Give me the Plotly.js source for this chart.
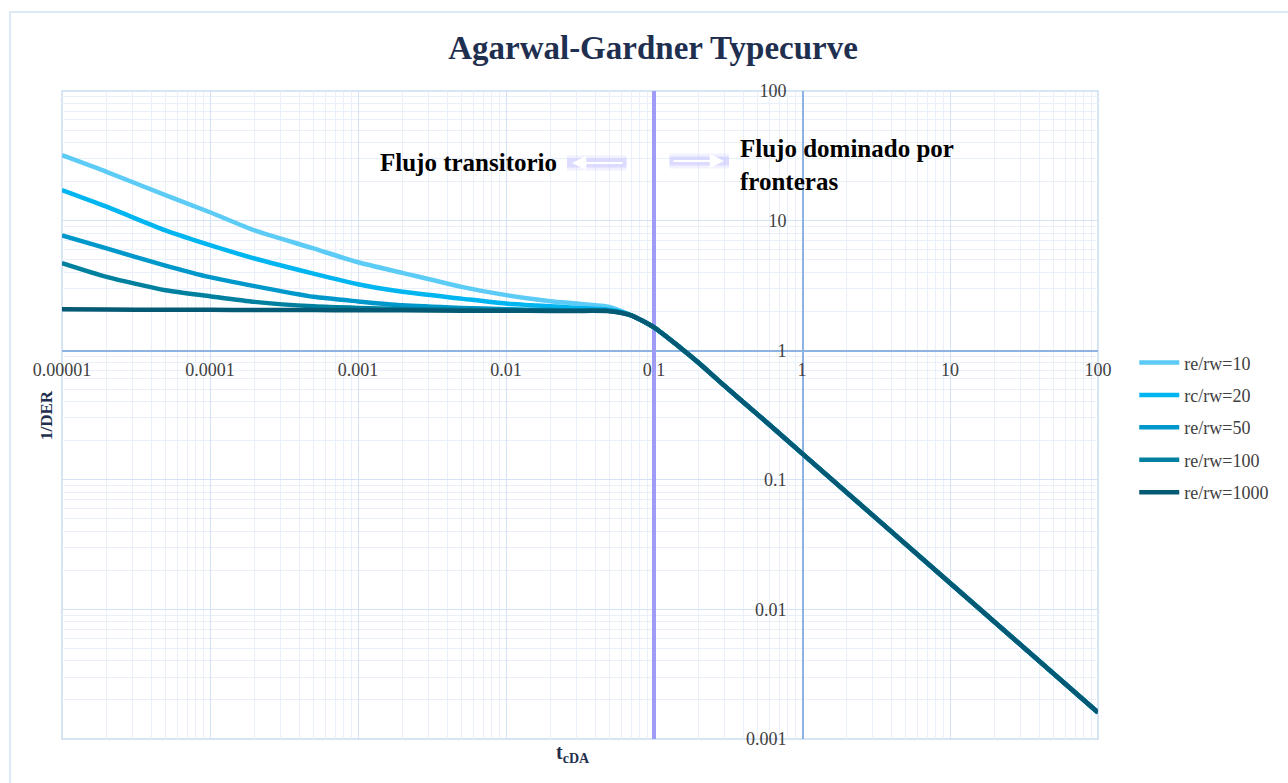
<!DOCTYPE html>
<html>
<head>
<meta charset="utf-8">
<script src="https://cdn.plot.ly/plotly-3.0.1.min.js"></script>
<style>
  html, body { margin: 0; padding: 0; background: #ffffff; }
  #chart { width: 1288px; height: 783px; }
</style>
</head>
<body>
<div id="chart"></div>
<script>
// Dimensionless material-balance time, early (transient) part
const earlyT = [1e-5, 2e-5, 5e-5, 1e-4, 2e-4, 5e-4, 1e-3, 2e-3, 5e-3, 0.01, 0.02, 0.03, 0.05];
// 1/DER for each re/rw during transient flow
const r10   = [32, 23.8, 15.7, 11.6, 8.4, 6.1, 4.77, 3.95, 3.08, 2.66, 2.39, 2.29, 2.16];
const r20   = [17.2, 12.8, 8.4, 6.46, 5.1, 3.9, 3.23, 2.82, 2.5, 2.29, 2.18, 2.12, 2.05];
const r50   = [7.7, 6.1, 4.5, 3.66, 3.12, 2.58, 2.38, 2.22, 2.12, 2.07, 2.04, 2.03, 2.02];
const r100  = [4.7, 3.68, 2.9, 2.61, 2.36, 2.18, 2.12, 2.08, 2.05, 2.04, 2.03, 2.02, 2.01];
const r1000 = [2.07, 2.06, 2.05, 2.05, 2.04, 2.04, 2.03, 2.03, 2.02, 2.02, 2.01, 2.01, 2.0];

// Boundary-dominated part, common to every curve
const lateT = [0.07, 0.1, 0.15, 0.2, 0.3, 0.5, 1, 10, 100];
const lateY = [1.86, 1.5, 1.05, 0.8, 0.53, 0.32, 0.16, 0.016, 0.0016];

const seriesNames  = ['re/rw=10', 'rc/rw=20', 're/rw=50', 're/rw=100', 're/rw=1000'];
const seriesValues = [r10, r20, r50, r100, r1000];
const seriesColors = ['#5ccbf6', '#00b5f0', '#0098cb', '#00809f', '#045a75'];

// Transient / boundary-dominated limit
const limitT = [0.1, 0.1];
const limitY = [0.001, 100];

const xTickVals = [1e-5, 1e-4, 1e-3, 1e-2, 0.1, 1, 10, 100];
const xTickText = ['0.00001', '0.0001', '0.001', '0.01', '0.1', '1', '10', '100'];
const yTickVals = [0.001, 0.01, 0.1, 1, 10, 100];
const yTickText = ['0.001', '0.01', '0.1', '1', '10', '100'];

// Minor grid: 2..9 inside every decade
function decadeSteps(lo, hi) {
  const out = [];
  for (let e = lo; e < hi; e++) {
    for (let m = 2; m <= 9; m++) out.push(m * Math.pow(10, e));
  }
  return out;
}

const serif = 'Liberation Serif, Times New Roman, serif';

const traces = [{
  x: limitT, y: limitY, mode: 'lines', showlegend: false, hoverinfo: 'skip',
  line: { color: '#9f9cf8', width: 4 }
}];
seriesNames.forEach((name, i) => {
  traces.push({
    x: earlyT.concat(lateT),
    y: seriesValues[i].concat(lateY),
    mode: 'lines',
    name: name,
    legendgroup: 'g' + i,
    line: { color: seriesColors[i], width: 4.5, shape: 'spline', smoothing: 0.6 }
  });
});

const axisCommon = {
  type: 'log',
  tickmode: 'array',
  showgrid: true,
  gridcolor: '#d3e2f4',
  gridwidth: 1,
  showline: true,
  linecolor: '#8db3e2',
  linewidth: 1.5,
  ticks: '',
  layer: 'below traces',
  tickfont: { family: serif, size: 18, color: '#404040' },
  anchor: 'free',
  fixedrange: true
};

// white arrow inside a soft lavender glow (pixel positions of tip, length, direction)
function haloArrow(tipX, tipY, len, dir) {
  const px = (x) => (x - 62) / 1036;
  const py = (y) => (739 - y) / 648;
  const glow = (w, c) => ({
    text: '', xref: 'paper', yref: 'paper',
    x: px(tipX + dir * 5), y: py(tipY),
    showarrow: true, axref: 'pixel', ayref: 'pixel', ax: -dir * (len + 9), ay: 0,
    arrowhead: 0, arrowwidth: w, arrowcolor: c
  });
  return [
    glow(15, 'rgba(205,203,255,0.25)'),
    glow(9, 'rgba(190,188,255,0.4)'),
    { text: '', xref: 'paper', yref: 'paper', x: px(tipX), y: py(tipY),
      showarrow: true, axref: 'pixel', ayref: 'pixel', ax: -dir * len, ay: 0,
      arrowhead: 2, arrowsize: 1.3, arrowwidth: 2.2, arrowcolor: '#ffffff' }
  ];
}

const layout = {
  width: 1288,
  height: 783,
  margin: { l: 62, r: 190, t: 91, b: 44 },
  paper_bgcolor: '#ffffff',
  plot_bgcolor: '#ffffff',
  title: {
    text: 'Agarwal-Gardner Typecurve',
    font: { family: serif, size: 33, color: '#1f2f4f', weight: 'bold' },
    xref: 'container', x: 0.507, xanchor: 'center',
    yref: 'container', y: 1 - 47 / 783, yanchor: 'middle'
  },
  xaxis: Object.assign({}, axisCommon, {
    range: [-5, 2],
    tickvals: xTickVals,
    ticktext: xTickText,
    position: 0.6,
    ticklabelstandoff: 3,
    minor: { tickmode: 'array', tickvals: decadeSteps(-5, 2), showgrid: true, gridcolor: '#e9f0fa', ticks: '' }
  }),
  yaxis: Object.assign({}, axisCommon, {
    range: [-3, 2],
    tickvals: yTickVals,
    ticktext: yTickText,
    position: 5 / 7,
    ticklabelstandoff: 12,
    minor: { tickmode: 'array', tickvals: decadeSteps(-3, 2), showgrid: true, gridcolor: '#e9f0fa', ticks: '' }
  }),
  showlegend: true,
  legend: {
    x: 1.035, xanchor: 'left',
    y: 0.609, yanchor: 'top',
    font: { family: serif, size: 18, color: '#404040' },
    traceorder: 'grouped',
    tracegroupgap: 6,
    itemwidth: 40,
    bgcolor: 'rgba(0,0,0,0)'
  },
  shapes: [
    // plot-area outline
    { type: 'rect', xref: 'paper', yref: 'paper', x0: 0, x1: 1, y0: 0, y1: 1,
      line: { color: '#c9dbf1', width: 1.5 }, layer: 'below' },
    // chart frame
    { type: 'rect', xref: 'paper', yref: 'paper', x0: -0.0502, x1: 1.4, y0: -0.3, y1: 1.1219,
      line: { color: '#d3e2f4', width: 1.5 }, layer: 'below' }
  ],
  annotations: [
    { text: '<b>1/DER</b>', xref: 'paper', yref: 'paper', x: -0.0154, y: 0.5,
      textangle: -90, showarrow: false, xanchor: 'center', yanchor: 'middle',
      font: { family: serif, size: 17, color: '#1f2f4f' } },
    { text: '<b>t<sub>cDA</sub></b>', xref: 'paper', yref: 'paper', x: 0.4935, y: -0.022,
      showarrow: false, xanchor: 'center', yanchor: 'middle',
      font: { family: serif, size: 20, color: '#1f2f4f' } },
    { text: '<b>Flujo transitorio</b>', xref: 'paper', yref: 'paper', x: 0.4797, y: 0.8904,
      showarrow: false, xanchor: 'right', yanchor: 'middle',
      font: { family: serif, size: 25, color: '#000000' } },
    { text: '<b>Flujo dominado por<br>fronteras</b>', xref: 'paper', yref: 'paper', x: 0.6525, y: 0.935,
      showarrow: false, xanchor: 'left', yanchor: 'top', align: 'left',
      font: { family: serif, size: 25, color: '#000000' } }
  ].concat(haloArrow(572, 163, 52, -1), haloArrow(724, 161, 52, 1))
};

Plotly.newPlot('chart', traces, layout, { staticPlot: true, displayModeBar: false });
</script>
</body>
</html>
